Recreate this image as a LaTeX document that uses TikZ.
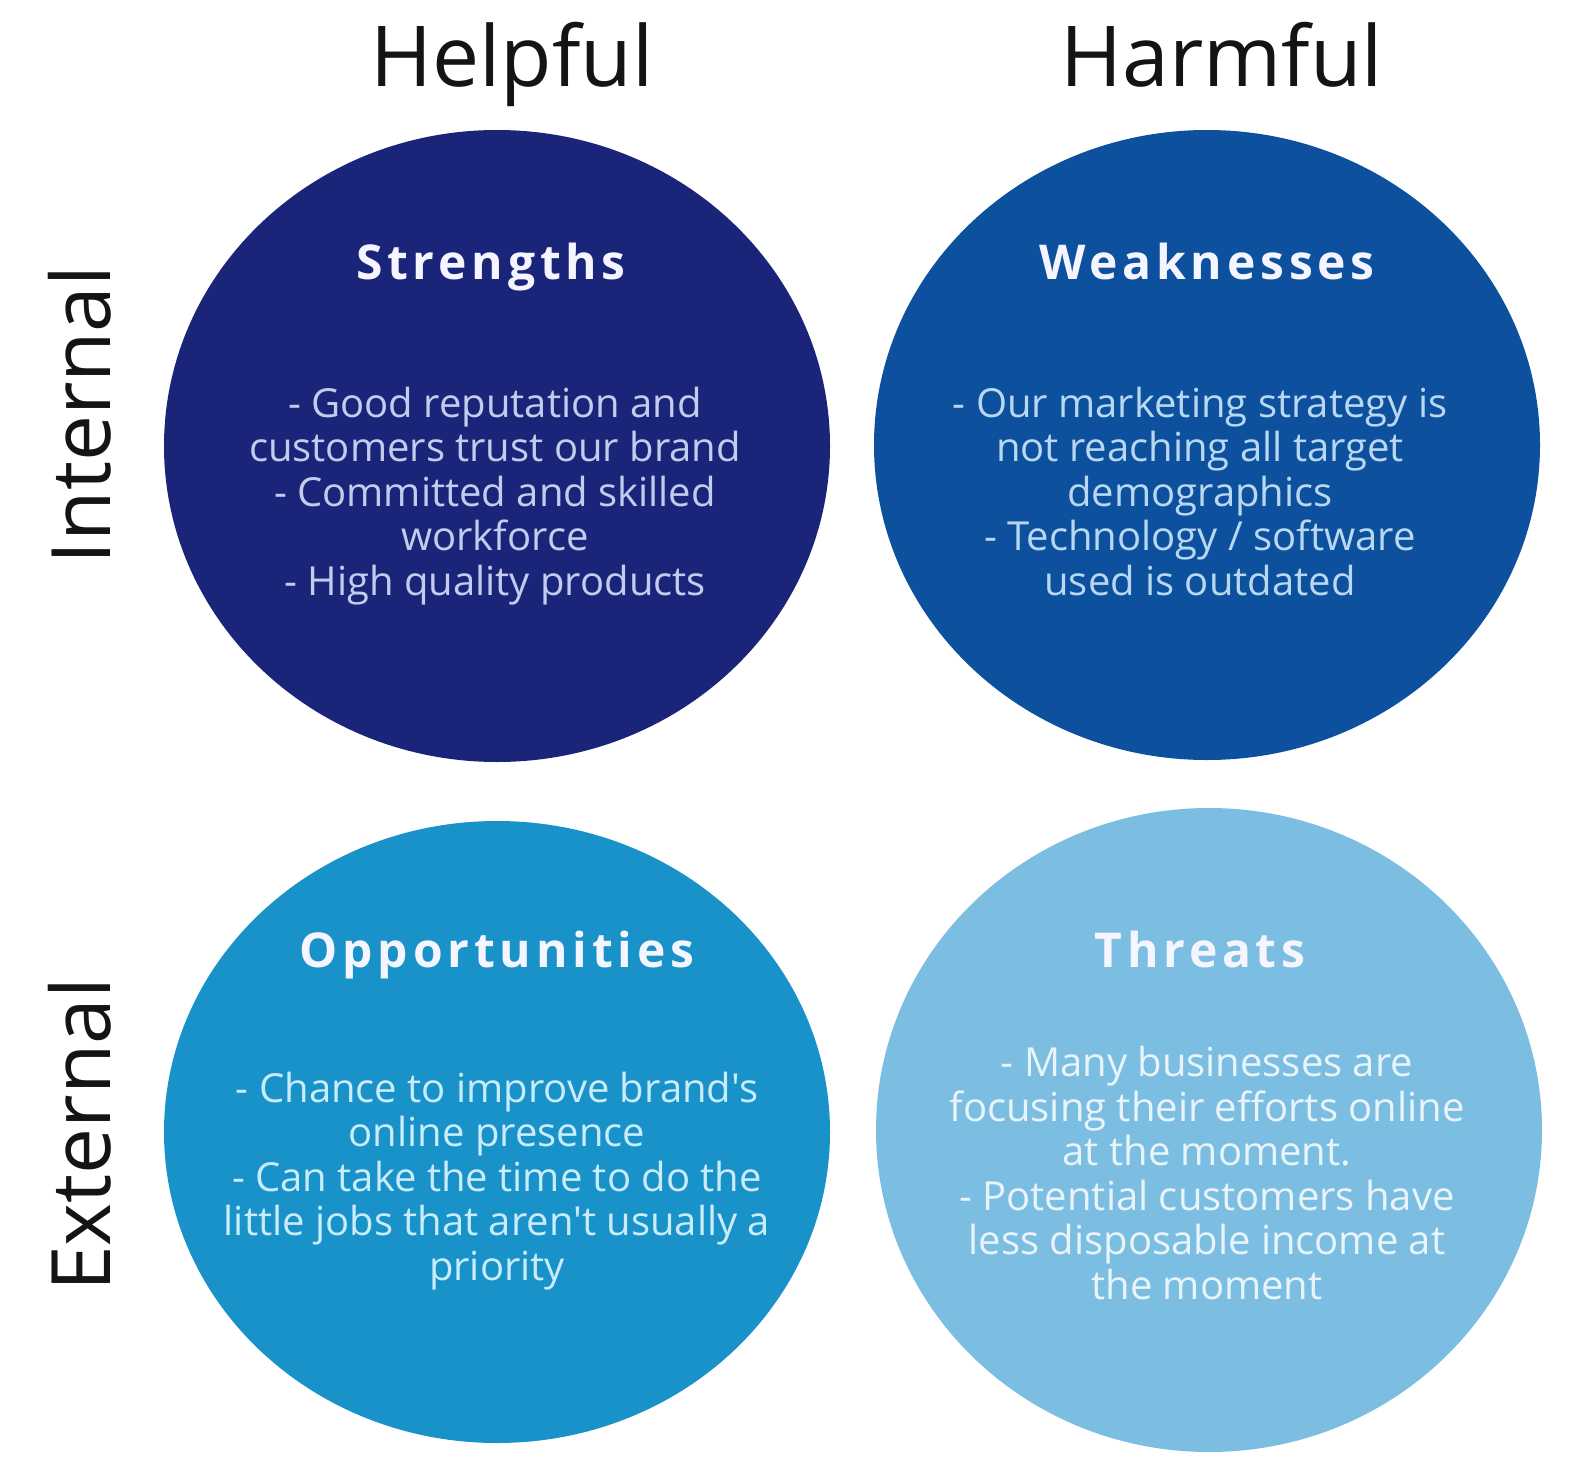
\documentclass[tikz,border=0pt]{standalone}
\usepackage{fontspec}
\setmainfont{Open Sans}
\newfontfamily\ttlfont[LetterSpace=10]{Open Sans Bold}
\newfontfamily\bodyfont[Ligatures=TeXOff]{Open Sans}
\usetikzlibrary{shapes.geometric}
\definecolor{cS}{RGB}{26,37,122}
\definecolor{cW}{RGB}{12,80,158}
\definecolor{cO}{RGB}{24,146,200}
\definecolor{cT}{RGB}{124,190,226}
\definecolor{tS}{RGB}{196,204,238}
\definecolor{tW}{RGB}{184,216,242}
\definecolor{tO}{RGB}{200,236,250}
\definecolor{tT}{RGB}{232,244,250}
\begin{document}
\begin{tikzpicture}[x=1pt,y=-1pt,
  blob/.style={ellipse,minimum width=666pt,minimum height=632pt,inner sep=0pt,draw=none},
  head/.style={font=\fontsize{84}{90}\selectfont,text=black!92,anchor=base,inner sep=0pt},
  side/.style={font=\fontsize{82}{90}\selectfont,text=black!92,rotate=90,inner sep=0pt},
  ttl/.style={font=\fontsize{48}{50}\ttlfont,text=white!96!blue,inner sep=0pt,anchor=base},
  body/.style={font=\fontsize{40}{44.5}\bodyfont,align=center,inner sep=0pt}]
\useasboundingbox[fill=white] (0,0) rectangle (1569,1472);
\node[blob,fill=cS] (S) at (497,446) {};
\node[blob,fill=cW,minimum height=630pt] (W) at (1207,445) {};
\node[blob,fill=cO,minimum height=622pt] (O) at (497,1132) {};
\node[blob,fill=cT,minimum height=644pt] (T) at (1209,1130) {};
\node[head] (help) at (512,86) {Helpful};
\node[head] (harm) at (1222,86) {Harmful};
\node[side] (int) at (80,415) {Internal};
\node[side] (ext) at (80,1135) {External};
\node[ttl] (St) at (491,279) {Strengths};
\node[ttl] (Wt) at (1207,279) {Weaknesses};
\node[ttl] (Ot) at (497,967) {Opportunities};
\node[ttl] (Tt) at (1200,967) {Threats};
\node[body,text=tS] (Sb) at (495,496) {- Good reputation and\\customers trust our brand\\- Committed and skilled\\workforce\\- High quality products};
\node[body,text=tW] (Wb) at (1200,491) {- Our marketing strategy is\\not reaching all target\\demographics\\- Technology / software\\used is outdated};
\node[body,text=tO] (Ob) at (497,1181) {- Chance to improve brand's\\online presence\\- Can take the time to do the\\little jobs that aren't usually a\\priority};
\node[body,text=tT] (Tb) at (1207,1173) {- Many businesses are\\focusing their efforts online\\at the moment.\\- Potential customers have\\less disposable income at\\the moment};
\end{tikzpicture}
\end{document}
